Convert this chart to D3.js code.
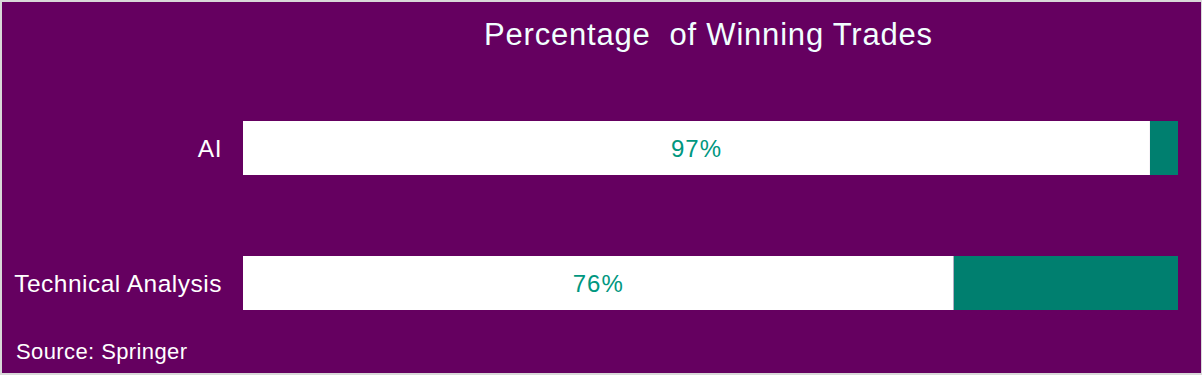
<!DOCTYPE html>
<html>
<head>
<meta charset="utf-8">
<script src="https://cdn.jsdelivr.net/npm/d3@7"></script>
<style>
  body { margin: 0; background: #d9d9d9; }
  svg text { font-family: "Liberation Sans", Arial, sans-serif; }
</style>
</head>
<body>
<div id="chart"></div>
<script>
// Chart data
var categories = ["AI", "Technical Analysis"];
var winning = [97, 76];
var total = 100;

var svgWidth = 1202;
var svgHeight = 375;

var margin = { top: 121, right: 24, bottom: 65, left: 243 };
var width = svgWidth - margin.left - margin.right;

var svg = d3.select("#chart")
  .append("svg")
  .attr("width", svgWidth)
  .attr("height", svgHeight);

// Background panel
svg.append("rect")
  .attr("x", 2)
  .attr("y", 2)
  .attr("width", svgWidth - 3)
  .attr("height", svgHeight - 4)
  .attr("fill", "#650060");

var chartGroup = svg.append("g")
  .attr("transform", `translate(${margin.left}, 0)`);

var xScale = d3.scaleLinear()
  .domain([0, total])
  .range([0, width]);

var yScale = d3.scaleBand()
  .domain(categories)
  .range([121, 310])
  .paddingInner(0.6)
  .paddingOuter(0);

var rows = categories.map((c, i) => ({ cat: c, val: winning[i] }));

// Remainder (teal) bars
chartGroup.selectAll(".rest")
  .data(rows)
  .enter()
  .append("rect")
  .attr("x", d => xScale(d.val))
  .attr("y", d => yScale(d.cat))
  .attr("width", d => xScale(total) - xScale(d.val))
  .attr("height", yScale.bandwidth())
  .attr("fill", "#007f6f");

// Winning (white) bars
chartGroup.selectAll(".win")
  .data(rows)
  .enter()
  .append("rect")
  .attr("x", 0)
  .attr("y", d => yScale(d.cat))
  .attr("width", d => xScale(d.val))
  .attr("height", yScale.bandwidth())
  .attr("fill", "#ffffff");

// Value labels
chartGroup.selectAll(".val")
  .data(rows)
  .enter()
  .append("text")
  .attr("x", d => xScale(d.val) / 2)
  .attr("y", d => yScale(d.cat) + yScale.bandwidth() / 2)
  .attr("text-anchor", "middle")
  .attr("dominant-baseline", "central")
  .attr("font-size", "24px")
  .attr("letter-spacing", "1px")
  .attr("fill", "#00977f")
  .text(d => d.val + "%");

// Category axis
var leftAxis = d3.axisLeft(yScale).tickSize(0).tickPadding(21);
var yAxis = chartGroup.append("g").call(leftAxis);
yAxis.select(".domain").remove();
yAxis.selectAll("text")
  .attr("font-size", "24.5px")
  .attr("letter-spacing", "0.5px")
  .attr("fill", "#ffffff")
  .attr("dy", "0.35em")
  .style("font-family", "'Liberation Sans', Arial, sans-serif");

// Title
svg.append("text")
  .attr("x", margin.left + width / 2 - 2)
  .attr("y", 45)
  .attr("text-anchor", "middle")
  .attr("font-size", "31px")
  .attr("letter-spacing", "0.8px")
  .attr("fill", "#f2ffff")
  .attr("xml:space", "preserve")
  .style("white-space", "pre")
  .text("Percentage  of Winning Trades");

// Source
svg.append("text")
  .attr("x", 16)
  .attr("y", 359)
  .attr("font-size", "22px")
  .attr("letter-spacing", "0.4px")
  .attr("fill", "#ffffff")
  .text("Source: Springer");
</script>
</body>
</html>
